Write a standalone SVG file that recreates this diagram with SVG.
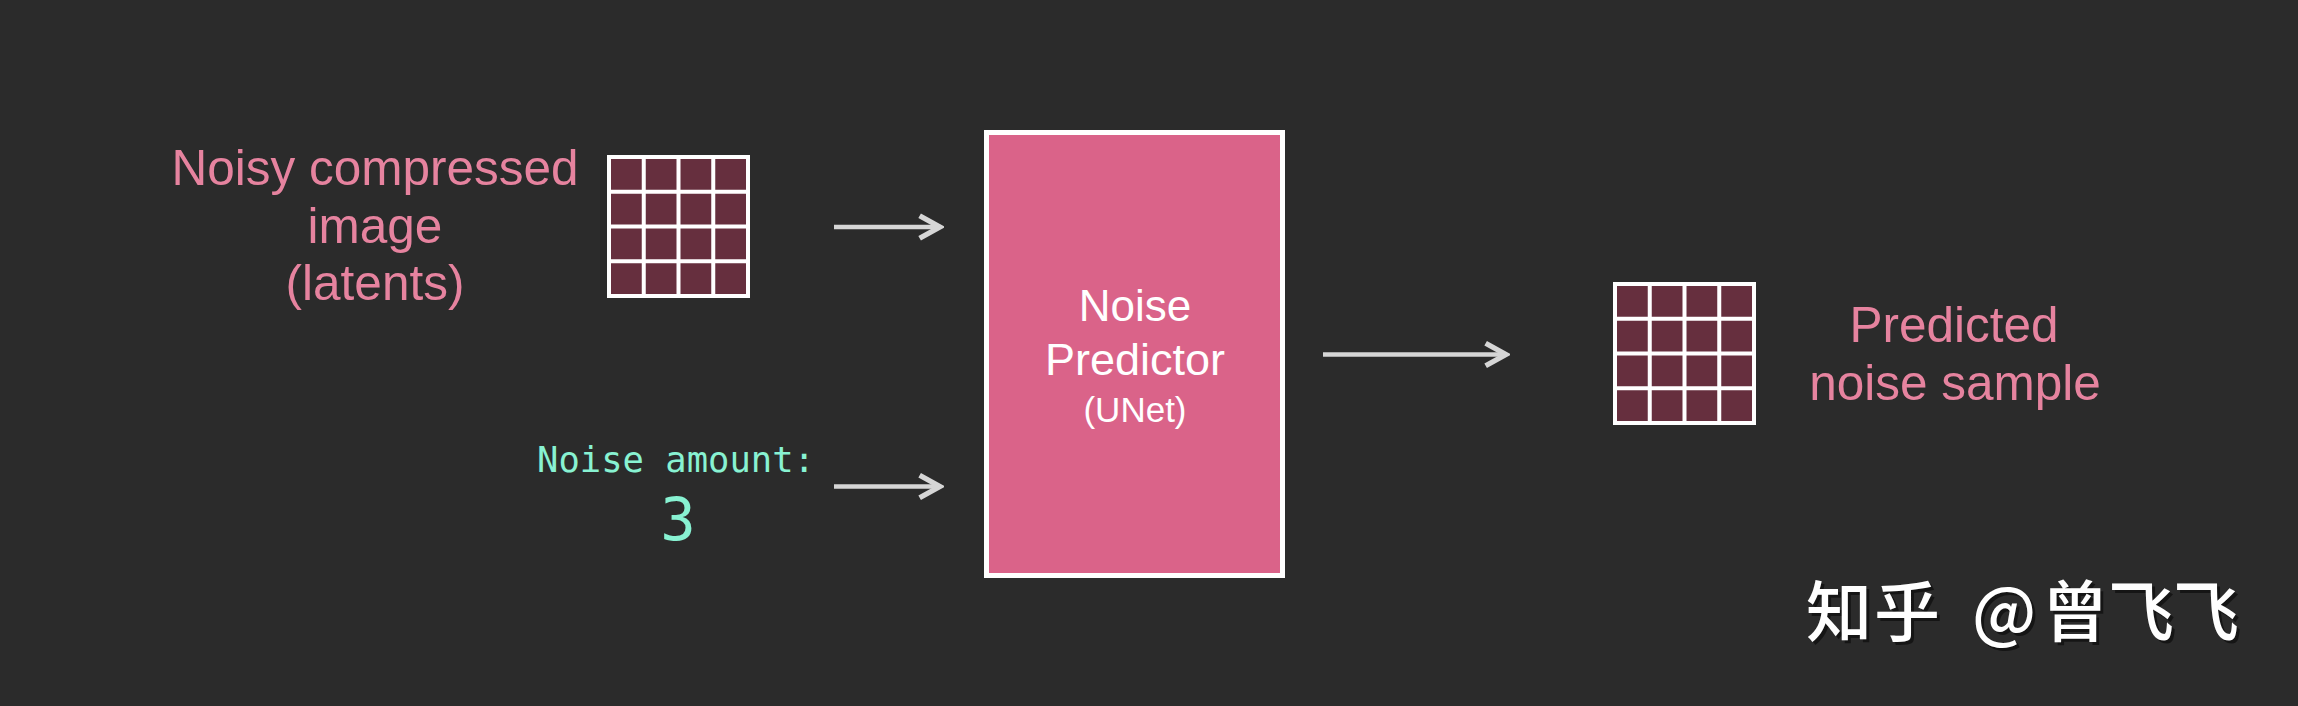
<svg xmlns="http://www.w3.org/2000/svg" width="2298" height="706" viewBox="0 0 2298 706">
<style>
.lbl{font-family:"Liberation Sans",Arial,sans-serif;font-size:49.5px;fill:#e6839f;text-anchor:middle}
.box{font-family:"Liberation Sans",Arial,sans-serif;fill:#ffffff;text-anchor:middle}
.mono{font-family:"DejaVu Sans Mono","Liberation Mono",monospace;fill:#88f2d2;text-anchor:middle}
.conn{stroke:#d6d6d6;stroke-width:4.5;fill:none;marker-end:url(#chev)}
.wm{font-family:"Noto Sans CJK SC","Noto Sans CJK JP",sans-serif;font-size:66px;font-weight:500}
</style>
<defs>
<marker id="chev" markerUnits="userSpaceOnUse" markerWidth="30" markerHeight="30" viewBox="-24 -14 28 28" refX="0" refY="0" orient="auto">
<path d="M-19,-10.5 L0,0 L-19,10.5" fill="none" stroke="#d6d6d6" stroke-width="5" stroke-linecap="butt" stroke-linejoin="miter"/>
</marker>
<g id="grid">
<rect x="0" y="0" width="143" height="143" fill="#662f3e"/>
<rect x="2" y="2" width="139" height="139" fill="none" stroke="#ffffff" stroke-width="4"/>
<path d="M36.75,2V141M71.5,2V141M106.25,2V141M2,36.75H141M2,71.5H141M2,106.25H141" stroke="#ffffff" stroke-width="4"/>
</g>
</defs>
<rect width="2298" height="706" fill="#2b2b2b"/>

<g id="latents">
<text class="lbl"><tspan x="375" y="185">Noisy compressed</tspan><tspan x="375" y="243">image</tspan><tspan x="375" y="300">(latents)</tspan></text>
<use href="#grid" x="607" y="155"/>
</g>

<g id="noise-amount">
<text class="mono" x="676" y="472" font-size="35.5">Noise amount:</text>
<text class="mono" x="678" y="540" font-size="59">3</text>
</g>

<g id="unet">
<rect x="986.5" y="132.5" width="296" height="443" fill="#da6389" stroke="#ffffff" stroke-width="5"/>
<text class="box" x="1135" y="321" font-size="44">Noise</text>
<text class="box" x="1135" y="375" font-size="45">Predictor</text>
<text class="box" x="1135" y="422" font-size="35">(UNet)</text>
</g>

<g id="predicted">
<use href="#grid" x="1613" y="282"/>
<text class="lbl"><tspan x="1954" y="342">Predicted</tspan><tspan x="1955" y="400">noise sample</tspan></text>
</g>

<g id="connectors">
<line class="conn" x1="834" y1="227" x2="940" y2="227"/>
<line class="conn" x1="834" y1="486.5" x2="940" y2="486.5"/>
<line class="conn" x1="1323" y1="354.5" x2="1506" y2="354.5"/>
</g>

<g id="watermark">
<text class="wm" fill="#000000" fill-opacity="0.5" x="1809 1877 1943 1975 2045 2111 2176" y="639">知乎 @曾飞飞</text>
<text class="wm" fill="#ffffff" x="1806 1874 1940 1972 2042 2108 2173" y="636">知乎 @曾飞飞</text>
</g>
</svg>
